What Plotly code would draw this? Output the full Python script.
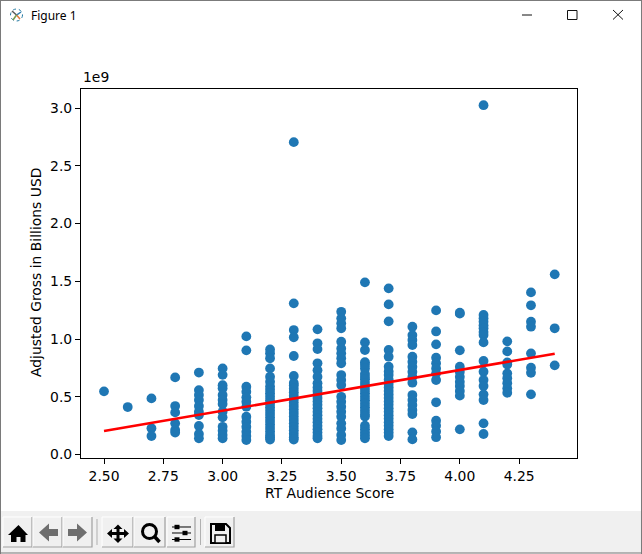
import plotly.graph_objects as go

# ---- data (gross in units of 1e9 USD) ----
gross_250 = [0.547]
gross_260 = [0.411]
gross_270 = [0.486, 0.227, 0.16]
gross_280 = [0.668, 0.42, 0.365, 0.27, 0.212, 0.19]
gross_290 = [0.71, 0.558, 0.515, 0.472, 0.42, 0.37, 0.342, 0.247, 0.178, 0.14]
gross_300 = [0.746, 0.69, 0.60, 0.573, 0.515, 0.472, 0.437, 0.37, 0.322, 0.24, 0.206, 0.169, 0.14]
gross_310 = [1.023, 0.902, 0.587, 0.544, 0.495, 0.457, 0.414, 0.327, 0.284, 0.24, 0.197, 0.16, 0.126]
gross_320 = [0.91, 0.876, 0.833, 0.746, 0.674, 0.63, 0.59, 0.56, 0.53, 0.50, 0.47, 0.44, 0.41, 0.38,
             0.35, 0.32, 0.29, 0.26, 0.23, 0.20, 0.17, 0.15, 0.13]
gross_330 = [2.705, 1.309, 1.078, 1.015, 0.853, 0.68, 0.62, 0.60, 0.57, 0.54, 0.51, 0.48, 0.45, 0.42,
             0.39, 0.36, 0.33, 0.30, 0.27, 0.24, 0.21, 0.18, 0.15, 0.13]
gross_340 = [1.084, 0.963, 0.913, 0.79, 0.73, 0.674, 0.617, 0.58, 0.55, 0.52, 0.49, 0.46, 0.43, 0.40,
             0.37, 0.34, 0.31, 0.28, 0.25, 0.22, 0.19, 0.16, 0.14]
gross_350 = [1.236, 1.179, 1.136, 1.093, 0.977, 0.919, 0.876, 0.833, 0.79, 0.688, 0.645, 0.602, 0.5,
             0.457, 0.414, 0.37, 0.327, 0.27, 0.226, 0.169, 0.126]
gross_360 = [1.491, 0.971, 0.905, 0.80, 0.775, 0.746, 0.70, 0.674, 0.651, 0.62, 0.59, 0.56, 0.53, 0.50,
             0.47, 0.44, 0.41, 0.38, 0.35, 0.33, 0.25, 0.22, 0.19, 0.165, 0.14]
gross_370 = [1.439, 1.30, 1.153, 0.905, 0.847, 0.76, 0.72, 0.688, 0.65, 0.61, 0.58, 0.55, 0.52, 0.49,
             0.46, 0.43, 0.40, 0.37, 0.34, 0.31, 0.28, 0.25, 0.22, 0.19, 0.16]
gross_380 = [1.107, 1.034, 0.991, 0.948, 0.847, 0.804, 0.76, 0.717, 0.674, 0.622, 0.515, 0.472, 0.429,
             0.385, 0.35, 0.192, 0.131]
gross_390 = [1.248, 1.066, 0.954, 0.838, 0.79, 0.746, 0.703, 0.645, 0.452, 0.293, 0.25, 0.20, 0.15]
gross_400 = [1.228, 1.22, 0.902, 0.76, 0.717, 0.674, 0.63, 0.593, 0.55, 0.51, 0.218]
gross_410 = [3.025, 1.208, 1.18, 1.15, 1.12, 1.093, 1.06, 1.035, 0.971, 0.81, 0.717, 0.645, 0.593,
             0.521, 0.472, 0.27, 0.178]
gross_420 = [0.98, 0.893, 0.798, 0.78, 0.703, 0.66, 0.617, 0.573, 0.535]
gross_430 = [1.404, 1.292, 1.15, 1.107, 0.876, 0.752, 0.708, 0.521]
gross_440 = [1.56, 1.093, 0.772]

rt_scores = [2.5, 2.6, 2.7, 2.8, 2.9, 3.0, 3.1, 3.2, 3.3, 3.4, 3.5, 3.6, 3.7, 3.8, 3.9, 4.0, 4.1, 4.2, 4.3, 4.4]
gross_by_score = [gross_250, gross_260, gross_270, gross_280, gross_290, gross_300, gross_310, gross_320,
                  gross_330, gross_340, gross_350, gross_360, gross_370, gross_380, gross_390, gross_400,
                  gross_410, gross_420, gross_430, gross_440]

fit_x = [2.5, 4.4]
fit_y = [0.203, 0.873]

x_ticks = [2.5, 2.75, 3.0, 3.25, 3.5, 3.75, 4.0, 4.25]
y_ticks = [0.0, 0.5, 1.0, 1.5, 2.0, 2.5, 3.0]

W, H = 642, 554
FONT = "DejaVu Sans"

xs, ys = [], []
for s, vals in zip(rt_scores, gross_by_score):
    for v in vals:
        xs.append(s)
        ys.append(v * 1e9)


def px(x):
    return x / W


def py(y):
    return 1 - y / H


shapes = []


def rect(x0, y0, x1, y1, fill=None, line=None, width=1):
    shapes.append(dict(type="rect", xref="paper", yref="paper", x0=px(x0), x1=px(x1), y0=py(y0), y1=py(y1),
                       fillcolor=fill or "rgba(0,0,0,0)", line=dict(color=line or "rgba(0,0,0,0)", width=width if line else 0),
                       layer="below"))


def poly(points, fill=None, line=None, width=1, close=True):
    d = "M " + " L ".join(f"{px(a):.5f} {py(b):.5f}" for a, b in points) + (" Z" if close else "")
    shapes.append(dict(type="path", xref="paper", yref="paper", path=d,
                       fillcolor=fill or "rgba(0,0,0,0)", line=dict(color=line or "rgba(0,0,0,0)", width=width if line else 0),
                       layer="below"))


def circle(cx, cy, r, fill=None, line=None, width=1, dash=None):
    shapes.append(dict(type="circle", xref="paper", yref="paper", x0=px(cx - r), x1=px(cx + r), y0=py(cy + r), y1=py(cy - r),
                       fillcolor=fill or "rgba(0,0,0,0)",
                       line=dict(color=line or "rgba(0,0,0,0)", width=width if line else 0, dash=dash or "solid"),
                       layer="below"))


# window chrome
rect(0, 511, 642, 554, fill="#f0f0f0")
poly([(0.5, 0), (0.5, 554)], line="#7a7a7a", width=1, close=False)
poly([(641.5, 0), (641.5, 554)], line="#7a7a7a", width=1, close=False)
poly([(0, 0.5), (642, 0.5)], line="#7a7a7a", width=1, close=False)
poly([(0, 553), (642, 553)], line="#7a7a7a", width=1, close=False)

# title bar buttons
poly([(522, 15), (532, 15)], line="#111111", width=1, close=False)
rect(567.5, 10.5, 577, 19.5, line="#111111", width=1)
poly([(613, 10), (623, 19.5)], line="#111111", width=1, close=False)
poly([(623, 10), (613, 19.5)], line="#111111", width=1, close=False)

# window icon
circle(16.5, 15, 6, fill="#ffffff", line="#1f77a0", width=1, dash="dot")
poly([(16.5, 15), (12, 11)], line="#5a5a5a", width=1.5, close=False)
poly([(16.5, 15), (21, 12)], line="#2f7fb0", width=1.5, close=False)
poly([(16.5, 15), (20, 19)], line="#e07b39", width=1.5, close=False)
poly([(16.5, 15), (13, 20)], line="#7a9a50", width=1.5, close=False)

# toolbar buttons
for x0, x1 in [(3, 32), (33, 62), (63, 92), (102, 133), (134, 165), (167, 195), (205, 234)]:
    rect(x0, 517, x1, 547, fill="#f0f0f0")
    poly([(x0, 547), (x0, 517), (x1, 517)], line="#ffffff", width=1, close=False)
    poly([(x0, 547), (x1, 547), (x1, 517)], line="#a0a0a0", width=1.2, close=False)
for sx in (97, 200.5):
    poly([(sx, 519), (sx, 545)], line="#b0b0b0", width=1, close=False)

# home
poly([(18.5, 525), (28, 535), (25.5, 535), (25.5, 542), (20.5, 542), (20.5, 537), (16.5, 537), (16.5, 542),
      (11, 542), (11, 535), (8, 535)], fill="#000000")
# back / forward
poly([(39, 532.5), (49, 523.5), (49, 529), (58, 529), (58, 536), (49, 536), (49, 541.5)], fill="#6e6e6e")
poly([(87, 532.5), (77, 523.5), (77, 529), (68, 529), (68, 536), (77, 536), (77, 541.5)], fill="#6e6e6e")
# move
poly([(118, 524.5), (122.5, 529), (119.5, 529), (119.5, 532), (124, 532), (124, 529), (129, 533.5), (124, 538),
      (124, 535), (119.5, 535), (119.5, 538.5), (122.5, 538.5), (118, 543), (113.5, 538.5), (116.5, 538.5),
      (116.5, 535), (112, 535), (112, 538), (107, 533.5), (112, 529), (112, 532), (116.5, 532), (116.5, 529),
      (113.5, 529)], fill="#000000")
# zoom
circle(149.5, 531.5, 7, line="#000000", width=3)
poly([(154.5, 536.5), (159.5, 542)], line="#000000", width=3.5, close=False)
# sliders
for yy, bx in [(527, 177), (533, 185), (539.5, 177)]:
    poly([(172, yy), (191, yy)], line="#000000", width=1, close=False)
    rect(bx - 2.5, yy - 2.2, bx + 2.5, yy + 2.2, fill="#000000")
# save
poly([(211, 524), (226, 524), (230, 528), (230, 543), (211, 543)], line="#000000", width=2)
rect(215, 524, 225, 531, fill="#000000")
rect(215, 535, 226, 543, fill="#f0f0f0", line="#000000", width=1.5)

fig = go.Figure()
fig.add_trace(go.Scatter(x=xs, y=ys, mode="markers", marker=dict(color="#1f77b4", size=9.8, line=dict(width=0)),
                         showlegend=False))
fig.add_trace(go.Scatter(x=fit_x, y=[v * 1e9 for v in fit_y], mode="lines", line=dict(color="#ff0000", width=2.6),
                         showlegend=False))

axis_common = dict(showgrid=False, zeroline=False, showline=True, mirror=True, linecolor="#000000", linewidth=1.1,
                   ticks="outside", ticklen=5, tickwidth=1.1, tickcolor="#000000", automargin=False,
                   tickfont=dict(family=FONT, size=13.9, color="#000000"))

fig.update_layout(
    width=W, height=H, margin=dict(l=0, r=0, t=0, b=0), paper_bgcolor="#ffffff", plot_bgcolor="#ffffff",
    font=dict(family=FONT, color="#000000"), showlegend=False, shapes=shapes,
    xaxis=dict(domain=[px(81), px(577)], range=[2.403, 4.494], tickvals=x_ticks, tickformat=".2f", **axis_common),
    yaxis=dict(domain=[py(458), py(89)], range=[-0.03e9, 3.165e9], tickvals=[v * 1e9 for v in y_ticks],
               ticktext=[f"{v:.1f}" for v in y_ticks], **axis_common),
    annotations=[
        dict(text="RT Audience Score", xref="paper", yref="paper", x=px(329), y=py(493), xanchor="center",
             yanchor="middle", showarrow=False, font=dict(family=FONT, size=13.9)),
        dict(text="Adjusted Gross in Billions USD", xref="paper", yref="paper", x=px(36), y=py(273),
             xanchor="center", yanchor="middle", textangle=-90, showarrow=False, font=dict(family=FONT, size=13.9)),
        dict(text="1e9", xref="paper", yref="paper", x=px(81), y=py(87), xanchor="left", yanchor="bottom",
             showarrow=False, font=dict(family=FONT, size=13.9), xshift=0, yshift=0),
        dict(text="Figure 1", xref="paper", yref="paper", x=px(29), y=py(16), xanchor="left", yanchor="middle",
             showarrow=False, font=dict(family="Noto Sans", size=12)),
    ],
)

fig.write_html("out.html", config={"displayModeBar": False},
               post_script="document.body.style.margin='0';document.documentElement.style.overflow='hidden';")
